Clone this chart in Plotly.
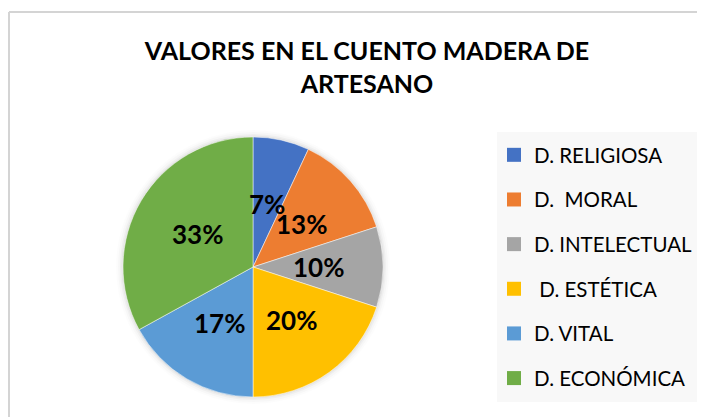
import math
import plotly.graph_objects as go

categories = ["D. RELIGIOSA", "D.  MORAL", "D. INTELECTUAL", " D. ESTÉTICA", "D. VITAL", "D. ECONÓMICA"]
values = [7, 13, 10, 20, 17, 33]
colors = ["#4472C4", "#ED7D31", "#A5A5A5", "#FFC000", "#5B9BD5", "#70AD47"]
title_text = "VALORES EN EL CUENTO MADERA DE<br>ARTESANO"

# page body has an 8px margin, so the figure is sized to fit the window
W, H = 697, 409
FONT = "Lato"

# pie geometry (pixels in figure space)
CX, CY, R = 245, 259, 130
dom_x = [(CX - R) / W, (CX + R) / W]
dom_y = [(H - CY - R) / H, (H - CY + R) / H]

fig = go.Figure()

fig.add_trace(go.Pie(
    labels=categories,
    values=values,
    marker=dict(colors=colors, line=dict(color="white", width=0.5)),
    sort=False,
    direction="clockwise",
    rotation=0,
    textinfo="none",
    domain=dict(x=dom_x, y=dom_y),
    showlegend=False,
    hoverinfo="label+percent",
))

# percentage labels placed at half radius along each slice's mid-angle
total = sum(values)
annotations = []
cum = 0
for v in values:
    mid = 2 * math.pi * (cum + v / 2) / total
    cum += v
    px = CX + 0.5 * R * math.sin(mid)
    py = CY - 0.5 * R * math.cos(mid)
    annotations.append(dict(
        x=px / W, y=1 - py / H, xref="paper", yref="paper",
        text=f"{round(100 * v / total)}%", showarrow=False,
        xanchor="center", yanchor="middle",
        font=dict(family=FONT, size=26, color="black", weight="bold"),
    ))

for i, (cat, col) in enumerate(zip(categories, colors)):
    fig.add_trace(go.Scatter(
        x=[None], y=[None], mode="markers", name=cat,
        marker=dict(symbol="square", size=14, color=col),
        legendgroup=str(i), showlegend=True,
    ))

shapes = []
# soft shadow around the pie
for k, a in [(7, 0.012), (5, 0.02), (3, 0.03), (1.5, 0.04)]:
    shapes.append(dict(type="circle", xref="paper", yref="paper",
                       x0=(CX - R - k) / W, x1=(CX + R + k) / W,
                       y0=(H - CY - R - k) / H, y1=(H - CY + R + k) / H,
                       fillcolor=f"rgba(0,0,0,{a})", line=dict(width=0), layer="below"))
shapes += [
    dict(type="rect", xref="paper", yref="paper",
         x0=489 / W, x1=689 / W, y0=1 - 394 / H, y1=1 - 124 / H,
         fillcolor="#F8F8F8", line=dict(width=0), layer="below"),
    dict(type="line", xref="paper", yref="paper",
         x0=1 / W, x1=1.05, y0=1 - 4 / H, y1=1 - 4 / H,
         line=dict(color="#D4D4D4", width=2)),
    dict(type="line", xref="paper", yref="paper",
         x0=1 / W, x1=1 / W, y0=1 - 4 / H, y1=-0.05,
         line=dict(color="#D4D4D4", width=2)),
]

fig.update_layout(
    width=W, height=H,
    margin=dict(l=0, r=0, t=0, b=0),
    paper_bgcolor="white",
    plot_bgcolor="rgba(0,0,0,0)",
    xaxis=dict(visible=False),
    yaxis=dict(visible=False),
    title=dict(
        text=title_text,
        x=359 / W, xanchor="center",
        y=1 - 52 / H, yanchor="middle",
        font=dict(family=FONT, size=25, color="black", weight="bold"),
    ),
    legend=dict(
        x=486 / W, xanchor="left",
        y=1 - 127 / H, yanchor="top",
        bgcolor="rgba(0,0,0,0)",
        font=dict(family=FONT, size=20.5, color="black"),
        tracegroupgap=15,
        itemwidth=30,
    ),
    shapes=shapes,
    annotations=annotations,
)

fig.write_html("out.html")
